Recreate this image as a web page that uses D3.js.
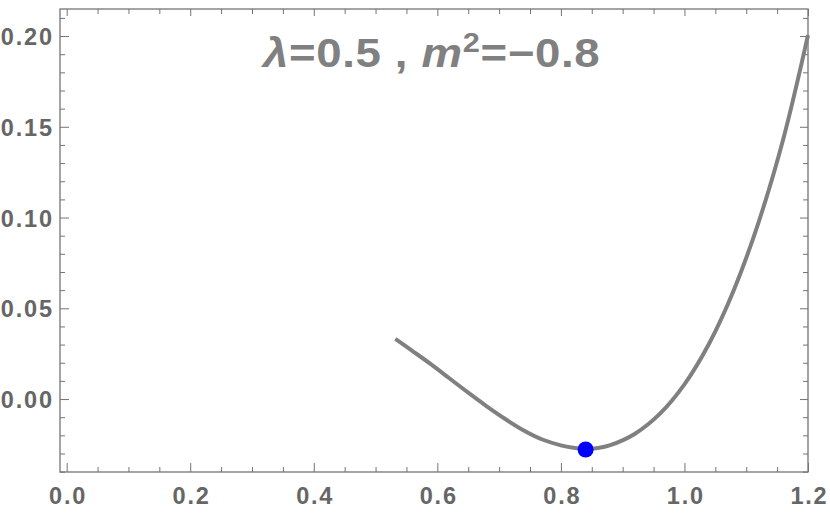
<!DOCTYPE html>
<html>
<head>
<meta charset="utf-8">
<script src="https://cdn.jsdelivr.net/npm/d3@7"></script>
<style>
  html, body { margin: 0; padding: 0; background: #fff; }
  svg { display: block; }
</style>
</head>
<body>
<svg id="chart" width="830" height="515"></svg>
<script>
// ---- data ----
const phiValues = [0.532, 0.56, 0.59, 0.62, 0.65, 0.68, 0.71, 0.74, 0.77, 0.80, 0.82, 0.84, 0.86, 0.88, 0.92, 0.96, 1.00, 1.04, 1.08, 1.12, 1.16, 1.20];
const potValues = [0.0331, 0.0264, 0.0191, 0.0113, 0.0035, -0.0040, -0.0110, -0.0173, -0.0223, -0.0255, -0.0268, -0.0275, -0.0270, -0.0254, -0.0191, -0.0082, 0.0081, 0.0306, 0.0601, 0.0974, 0.1433, 0.2005];
const minPhi = [0.840];
const minPot = [-0.0278];
const xMajorTicks = [0.0, 0.2, 0.4, 0.6, 0.8, 1.0, 1.2];
const xMinorTicks = [0.05, 0.1, 0.15, 0.25, 0.3, 0.35, 0.45, 0.5, 0.55, 0.65, 0.7, 0.75, 0.85, 0.9, 0.95, 1.05, 1.1, 1.15];
const yMajorTicks = [0.00, 0.05, 0.10, 0.15, 0.20];
const yMinorTicks = [-0.04, -0.03, -0.02, -0.01, 0.01, 0.02, 0.03, 0.04, 0.06, 0.07, 0.08, 0.09, 0.11, 0.12, 0.13, 0.14, 0.16, 0.17, 0.18, 0.19, 0.21];
const titleLambda = "λ";
const titleLambdaValue = "=0.5 , ";
const titleM = "m";
const titleSup = "2";
const titleMValue = "=\u22120.8";

// ---- layout ----
const plotL = 60, plotR = 808, plotT = 9, plotB = 472;
const frameColor = "#747474";
const labelColor = "#666666";

const svg = d3.select("#chart");
const x = d3.scaleLinear().domain([-0.0108, 1.2]).range([plotL, plotR]);
const y = d3.scaleLinear().domain([-0.0402, 0.2149]).range([plotB, plotT]);

// frame
svg.append("rect")
  .attr("x", plotL).attr("y", plotT)
  .attr("width", plotR - plotL).attr("height", plotB - plotT)
  .attr("fill", "none").attr("stroke", frameColor).attr("stroke-width", 1.3);

function styleAxis(g) {
  g.select(".domain").remove();
  g.selectAll(".tick line").attr("stroke", frameColor).attr("stroke-width", 1);
}

const labelFont = "'Liberation Sans', Arial, sans-serif";
const ls = 1.8;

// bottom major
svg.append("g").attr("transform", `translate(0,${plotB})`)
  .call(d3.axisBottom(x).tickValues(xMajorTicks).tickSize(-9).tickPadding(15).tickFormat(d3.format(".1f")))
  .call(styleAxis)
  .call(g => g.selectAll("text")
    .attr("fill", labelColor).attr("font-family", labelFont)
    .attr("font-size", 23.5).attr("font-weight", "bold")
    .attr("letter-spacing", ls).attr("dx", ls / 2));
// bottom minor
svg.append("g").attr("transform", `translate(0,${plotB})`)
  .call(d3.axisBottom(x).tickValues(xMinorTicks).tickSize(-5).tickFormat(""))
  .call(styleAxis);
// top mirror
svg.append("g").attr("transform", `translate(0,${plotT})`)
  .call(d3.axisTop(x).tickValues(xMajorTicks).tickSize(-7).tickFormat(""))
  .call(styleAxis);
svg.append("g").attr("transform", `translate(0,${plotT})`)
  .call(d3.axisTop(x).tickValues(xMinorTicks).tickSize(-5).tickFormat(""))
  .call(styleAxis);

// left major
svg.append("g").attr("transform", `translate(${plotL},0)`)
  .call(d3.axisLeft(y).tickValues(yMajorTicks).tickSize(-9).tickPadding(8).tickFormat(d3.format(".2f")))
  .call(styleAxis)
  .call(g => g.selectAll("text")
    .attr("fill", labelColor).attr("font-family", labelFont)
    .attr("font-size", 23.5).attr("font-weight", "bold")
    .attr("letter-spacing", ls).attr("dx", ls).attr("dy", "0.36em"));
// left minor
svg.append("g").attr("transform", `translate(${plotL},0)`)
  .call(d3.axisLeft(y).tickValues(yMinorTicks).tickSize(-5).tickFormat(""))
  .call(styleAxis);
// right mirror
svg.append("g").attr("transform", `translate(${plotR},0)`)
  .call(d3.axisRight(y).tickValues(yMajorTicks).tickSize(-8).tickFormat(""))
  .call(styleAxis);
svg.append("g").attr("transform", `translate(${plotR},0)`)
  .call(d3.axisRight(y).tickValues(yMinorTicks).tickSize(-5).tickFormat(""))
  .call(styleAxis);

// curve
const pts = phiValues.map((p, i) => [p, potValues[i]]);
const line = d3.line().x(d => x(d[0])).y(d => y(d[1])).curve(d3.curveCatmullRom.alpha(0.5));
svg.append("path").datum(pts)
  .attr("d", line)
  .attr("fill", "none").attr("stroke", "#808080").attr("stroke-width", 4)
  .attr("stroke-linejoin", "round");

// minimum point
svg.selectAll("circle.min").data(minPhi.map((p, i) => [p, minPot[i]])).enter()
  .append("circle").attr("class", "min")
  .attr("cx", d => x(d[0])).attr("cy", d => y(d[1])).attr("r", 8)
  .attr("fill", "#0000ff");

// title
const titleG = svg.append("g").attr("transform", "translate(263,67)");
const title = titleG.append("text")
  .attr("x", 0).attr("y", 0)
  .attr("fill", "#808080").attr("font-family", labelFont)
  .attr("font-size", 40).attr("font-weight", "bold");
title.append("tspan").attr("font-style", "italic").text(titleLambda);
title.append("tspan").text(titleLambdaValue);
title.append("tspan").attr("font-style", "italic").text(titleM);
title.append("tspan").attr("font-size", 27).attr("dy", -15).text(titleSup);
title.append("tspan").attr("dy", 15).text(titleMValue);
// widen the title to the reference width (glyphs in the reference are wide)
const targetW = 339;
const w0 = title.node().getBBox().width;
const sx = Math.min(1.14, targetW / w0);
titleG.attr("transform", `translate(263,67) scale(${sx},1)`);
const nChars = (titleLambda + titleLambdaValue + titleM + titleSup + titleMValue).length;
const rest = targetW - w0 * sx;
if (rest > 0) title.attr("letter-spacing", rest / sx / (nChars - 1));
</script>
</body>
</html>
